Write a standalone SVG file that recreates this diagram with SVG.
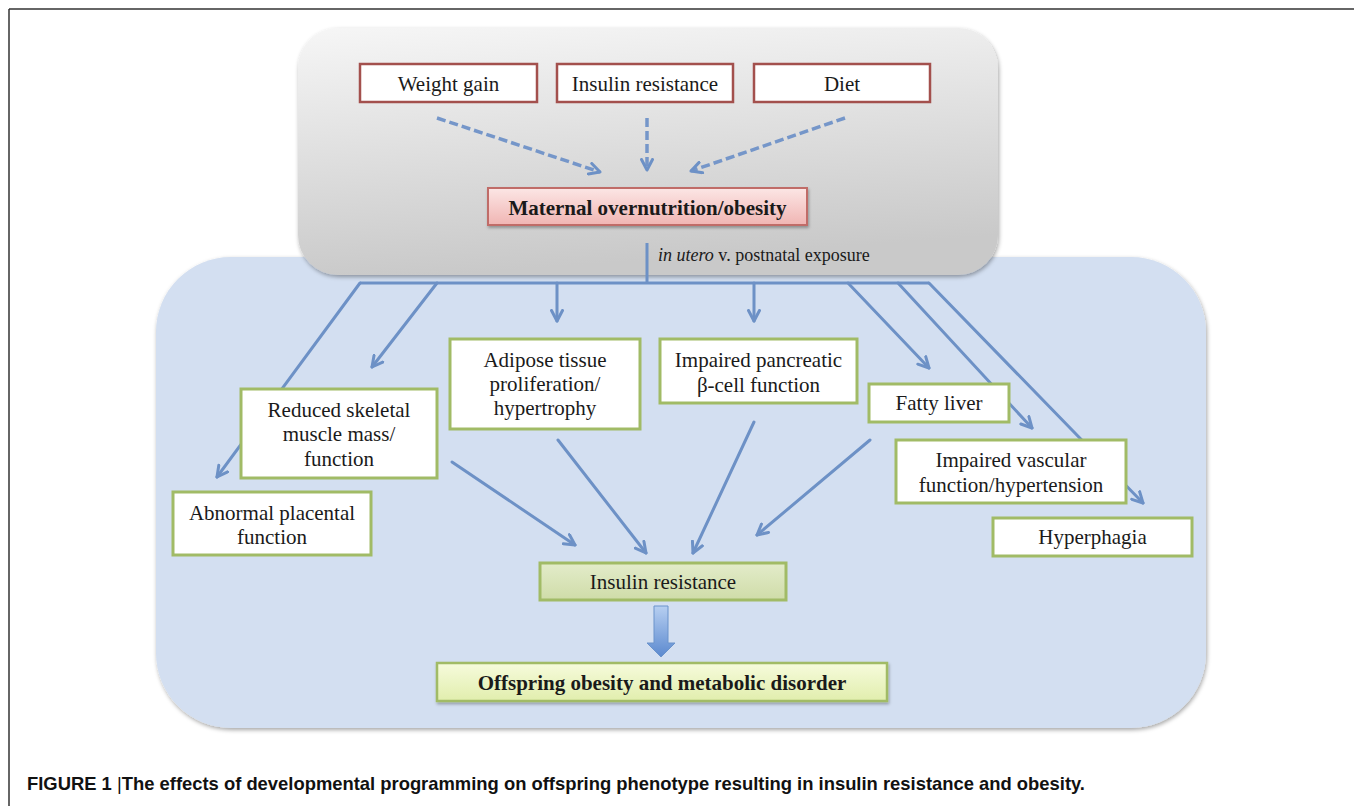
<svg xmlns="http://www.w3.org/2000/svg" width="1354" height="806" viewBox="0 0 1354 806">
<defs>
<style>
.t{font-family:"Liberation Serif","Times New Roman",serif;font-size:21px;fill:#1a1a1a;text-anchor:middle}
.b{font-weight:bold}
.red{fill:#ffffff;stroke:#a3504d;stroke-width:2.5}
.grn{fill:#ffffff;stroke:#a1bb66;stroke-width:3}
.ln{fill:none;stroke:#6d91c6;stroke-width:3;stroke-linecap:round;marker-end:url(#arr)}
.dash{fill:none;stroke:#7596c9;stroke-width:3.5;stroke-dasharray:9 4;marker-end:url(#arr)}
</style>
<marker id="arr" viewBox="0 0 14 14" refX="12" refY="7" markerWidth="14" markerHeight="14" markerUnits="userSpaceOnUse" orient="auto">
<path d="M1.5,1.5 L12,7 L1.5,12.5" fill="none" stroke="#6d91c6" stroke-width="3" stroke-linecap="round" stroke-linejoin="round"/>
</marker>
<linearGradient id="gGray" x1="0" y1="0" x2="0.2" y2="1">
<stop offset="0" stop-color="#f6f6f6"/><stop offset="1" stop-color="#c9c9c9"/>
</linearGradient>
<linearGradient id="gPink" x1="0" y1="0" x2="0" y2="1">
<stop offset="0" stop-color="#fce6e5"/><stop offset="1" stop-color="#f0b5b3"/>
</linearGradient>
<linearGradient id="gIns" x1="0" y1="0" x2="0" y2="1">
<stop offset="0" stop-color="#e3ecca"/><stop offset="1" stop-color="#cfdca8"/>
</linearGradient>
<linearGradient id="gOff" x1="0" y1="0" x2="0" y2="1">
<stop offset="0" stop-color="#f6fbdc"/><stop offset="1" stop-color="#e1eead"/>
</linearGradient>
<linearGradient id="gArr" x1="0" y1="0" x2="0" y2="1">
<stop offset="0" stop-color="#b7cff1"/><stop offset="1" stop-color="#5b89cf"/>
</linearGradient>
<filter id="sh" x="-5%" y="-5%" width="110%" height="115%">
<feDropShadow dx="1" dy="2" stdDeviation="2" flood-color="#000" flood-opacity="0.35"/>
</filter>
<filter id="sh2" x="-5%" y="-20%" width="110%" height="150%">
<feDropShadow dx="1" dy="2" stdDeviation="1.5" flood-color="#000" flood-opacity="0.3"/>
</filter>
</defs>
<rect width="1354" height="806" fill="#ffffff"/>
<g id="frame">
<path d="M9,9 H1354" stroke="#666" stroke-width="2" fill="none"/>
<path d="M9,9 V806" stroke="#333" stroke-width="1.5" fill="none"/>
</g>
<g id="offspring-panel">
<rect x="156" y="257" width="1050" height="471" rx="75" ry="75" fill="#d3dff1" filter="url(#sh)"/>
</g>
<g id="maternal-panel">
<rect x="298" y="28" width="700" height="247" rx="40" ry="40" fill="url(#gGray)" filter="url(#sh)"/>
</g>
<g id="connectors">
<path class="dash" d="M437,118 L600,172"/>
<path class="dash" d="M647,118 V170"/>
<path class="dash" d="M845,118 L691,171"/>
<path d="M647,243 V283 M360,283 H929" fill="none" stroke="#6d91c6" stroke-width="3"/>
<path class="ln" d="M360,283 L217,477"/>
<path class="ln" d="M437,283 L372,367"/>
<path class="ln" d="M557,283 V321"/>
<path class="ln" d="M754,283 V321"/>
<path class="ln" d="M848,283 L929,368"/>
<path class="ln" d="M898,283 L1032,428"/>
<path class="ln" d="M929,283 L1143,503"/>
<path class="ln" d="M452,462 L575,545"/>
<path class="ln" d="M558,440 L646,553"/>
<path class="ln" d="M754,422 L693,553"/>
<path class="ln" d="M870,440 L757,535"/>
<path d="M654,606 H668 V643 H675 L661,657 L647,643 H654 Z" fill="url(#gArr)" stroke="#6a93cb" stroke-width="1"/>
</g>
<g id="weight-gain">
<rect class="red" x="360" y="64" width="177" height="38"/>
<text class="t" x="448.5" y="91">Weight gain</text>
</g>
<g id="insulin-resistance-top">
<rect class="red" x="557" y="64" width="176" height="38"/>
<text class="t" x="645" y="91">Insulin resistance</text>
</g>
<g id="diet">
<rect class="red" x="754" y="64" width="176" height="38"/>
<text class="t" x="842" y="91">Diet</text>
</g>
<g id="maternal">
<rect x="488" y="188" width="319" height="37" fill="url(#gPink)" stroke="#c06c68" stroke-width="2" filter="url(#sh2)"/>
<text class="t b" x="647.5" y="215">Maternal overnutrition/obesity</text>
</g>
<g id="exposure-label">
<text x="658" y="261" style="font-family:'Liberation Serif','Times New Roman',serif;font-size:18px;fill:#1a1a1a"><tspan font-style="italic">in utero</tspan> v. postnatal exposure</text>
</g>
<g id="adipose">
<rect class="grn" x="450" y="339" width="190" height="90"/>
<text class="t" x="545" y="367">Adipose tissue</text>
<text class="t" x="545" y="391">proliferation/</text>
<text class="t" x="545" y="415">hypertrophy</text>
</g>
<g id="pancreatic">
<rect class="grn" x="660" y="339" width="197" height="64"/>
<text class="t" x="758.5" y="367">Impaired pancreatic</text>
<text class="t" x="758.5" y="392">β-cell function</text>
</g>
<g id="fatty-liver">
<rect class="grn" x="869" y="384" width="140" height="38"/>
<text class="t" x="939" y="410">Fatty liver</text>
</g>
<g id="vascular">
<rect class="grn" x="896" y="440" width="230" height="63"/>
<text class="t" x="1011" y="467">Impaired vascular</text>
<text class="t" x="1011" y="492">function/hypertension</text>
</g>
<g id="hyperphagia">
<rect class="grn" x="993" y="518" width="199" height="38"/>
<text class="t" x="1092.5" y="544">Hyperphagia</text>
</g>
<g id="skeletal">
<rect class="grn" x="241" y="389" width="196" height="89"/>
<text class="t" x="339" y="417">Reduced skeletal</text>
<text class="t" x="339" y="441">muscle mass/</text>
<text class="t" x="339" y="466">function</text>
</g>
<g id="placental">
<rect class="grn" x="173" y="492" width="198" height="63"/>
<text class="t" x="272" y="520">Abnormal placental</text>
<text class="t" x="272" y="544">function</text>
</g>
<g id="insulin-resistance">
<rect x="540" y="563" width="246" height="37" fill="url(#gIns)" stroke="#a1bb66" stroke-width="3"/>
<text class="t" x="663" y="589">Insulin resistance</text>
</g>
<g id="outcome">
<rect x="437" y="663" width="450" height="38" fill="url(#gOff)" stroke="#a1bb66" stroke-width="2.5" filter="url(#sh2)"/>
<text class="t b" x="662" y="690">Offspring obesity and metabolic disorder</text>
</g>
<g id="caption">
<text x="27" y="790" style="font-family:'Liberation Sans',Arial,sans-serif;font-size:18.4px;font-weight:bold;fill:#111">FIGURE 1 <tspan font-weight="normal">|</tspan>The effects of developmental programming on offspring phenotype resulting in insulin resistance and obesity.</text>
</g>
</svg>
